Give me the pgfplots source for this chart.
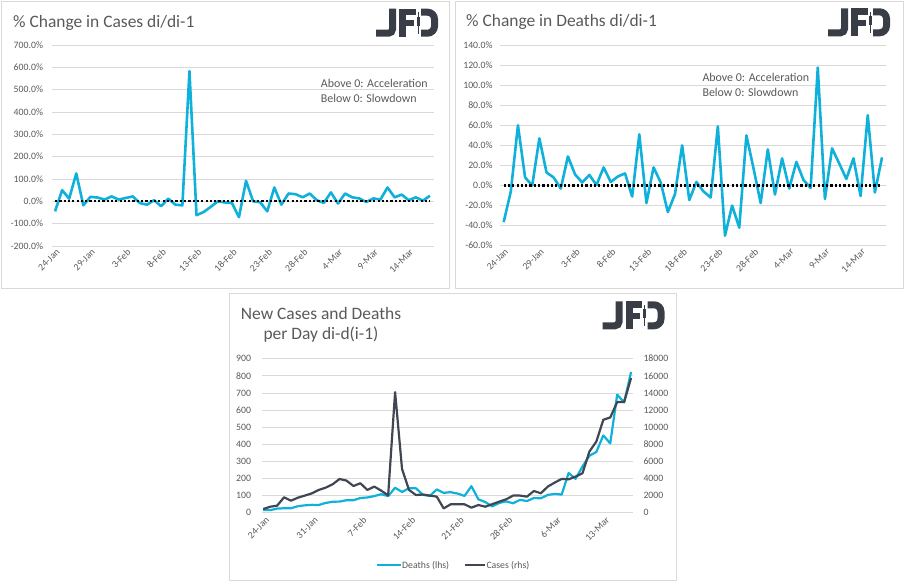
\documentclass[border=0pt]{standalone}
\usepackage{pgfplots}
\usepackage{pgfplotstable}
\pgfplotsset{compat=1.18}
\usepackage{fontspec}
\setmainfont{Carlito}

\definecolor{jfdcyan}{HTML}{0FB1DA}
\definecolor{jfdslate}{HTML}{404753}
\definecolor{txtgray}{HTML}{595959}
\definecolor{gridgray}{HTML}{D9D9D9}
\definecolor{logogray}{HTML}{393E46}

% daily % change in new cases (day index from 24-Jan)
\pgfplotstableread{
d pct
0 -45
1 50
2 12
3 125
4 -18
5 20
6 17
7 8
8 22
9 8
10 15
11 22
12 -8
13 -15
14 5
15 -22
16 12
17 -15
18 -18
19 583
20 -62
21 -48
22 -25
23 0
24 -5
25 -7
26 -71
27 92
28 0
29 -4
30 -45
31 62
32 -15
33 35
34 32
35 18
36 35
37 5
38 -7
39 40
40 -10
41 35
42 18
43 13
44 -3
45 13
46 8
47 62
48 18
49 30
50 5
51 18
52 3
53 25
}\casechange

% daily % change in new deaths
\pgfplotstableread{
d pct
0 -36.5
1 -6
2 60
3 8
4 0
5 47
6 13
7 8
8 -3
9 29
10 11
11 3
12 10.5
13 0.5
14 18
15 3.5
16 9
17 12
18 -11
19 51
20 -17.5
21 18
22 3
23 -26.5
24 -8.5
25 40
26 -14.5
27 3.5
28 -6
29 -12
30 59
31 -50
32 -20
33 -42
34 50
35 17
36 -17.5
37 36
38 -9
39 27
40 -3
41 23.5
42 5.5
43 -2.5
44 117.5
45 -13.5
46 37
47 22
48 6.5
49 27
50 -10.5
51 70
52 -7
53 28
}\deathchange

% new deaths and new cases per day
\pgfplotstableread{
d deaths cases
0 16 430
1 15 700
2 24 820
3 26 1800
4 26 1400
5 38 1760
6 43 2000
7 46 2260
8 45 2660
9 57 2930
10 64 3320
11 65 3940
12 73 3750
13 73 3120
14 86 3440
15 89 2660
16 97 3050
17 108 2580
18 97 2030
19 146 14100
20 121 5110
21 143 2660
22 143 2070
23 105 2120
24 98 2000
25 136 1880
26 116 500
27 120 980
28 112 980
29 98 980
30 155 590
31 78 900
32 62 700
33 37 1000
34 57 1290
35 66 1560
36 55 2000
37 75 2000
38 68 1880
39 86 2540
40 84 2270
41 104 3050
42 110 3520
43 106 3950
44 232 3900
45 198 4220
46 270 4610
47 333 7150
48 355 8320
49 452 10860
50 405 11130
51 690 12930
52 645 12930
53 822 15740
}\newperday

\pgfplotsset{
  excelbase/.style={
    scale only axis,
    axis line style={draw=none},
    major tick length=0pt,
    tick style={draw=none},
    tick label style={font=\fontsize{9.8}{11}\selectfont, text=txtgray},
    xticklabel style={rotate=45, anchor=north east, inner sep=1bp, yshift=-1bp},
    scaled ticks=false,
    clip=false,
  },
  gridded/.style={ymajorgrids, grid style={gridgray, line width=0.8bp}},
  pctline/.style={jfdcyan, line width=2.6bp, line join=round, no markers},
  zeroline/.style={black, line width=2.2bp, dash pattern=on 2.2bp off 2.1bp, no markers},
}

\tikzset{
  jfdlogo/.pic={
    \begin{scope}[x=1bp, y=-1bp]
      \draw[logogray, line width=7bp, rounded corners=4bp] (16.5,0) -- (16.5,24.5) -- (0,24.5);
      \fill[logogray] (23,0) rectangle (30,28);
      \fill[logogray] (23,0) rectangle (39.5,6.5);
      \fill[logogray] (23,11.5) rectangle (37.5,17.5);
      \draw[logogray, line width=1.3bp] (42.2,3.5) -- (42.2,25);
      \fill[logogray] (40.5,8) rectangle (43.9,17);
      \draw[logogray, line width=7bp, rounded corners=7bp] (45,3.5) -- (58.5,3.5) -- (58.5,24.5) -- (45,24.5);
    \end{scope}
  }
}

\begin{document}
\begin{tikzpicture}
\useasboundingbox (0,0) rectangle (906bp,584bp);

% panel frames
\draw[gridgray, line width=1bp] (1.5bp,582.5bp) rectangle (449.5bp,295.5bp);
\draw[gridgray, line width=1bp] (455.5bp,582.5bp) rectangle (903.5bp,295.5bp);
\draw[gridgray, line width=1bp] (229.5bp,290.5bp) rectangle (676.5bp,3.5bp);

% logos
\pic at (376bp,575.3bp) {jfdlogo};
\pic at (828bp,575.7bp) {jfdlogo};
\pic at (602.5bp,282.7bp) {jfdlogo};

% titles
\node[anchor=west, inner sep=0, font=\fontsize{17.5}{20}\selectfont, text=txtgray] at (13bp,561.5bp) {\% Change in Cases di/di-1};
\node[anchor=west, inner sep=0, font=\fontsize{17.5}{20}\selectfont, text=txtgray] at (466bp,561.8bp) {\% Change in Deaths di/di-1};
\node[align=center, inner sep=0, font=\fontsize{17.5}{20.6}\selectfont, text=txtgray] at (321bp,259bp) {New Cases and Deaths\\per Day di-d(i-1)};

% notes
\node[anchor=west, align=left, inner sep=0, font=\fontsize{12}{15}\selectfont, text=txtgray] at (320.7bp,493.2bp) {Above 0: Acceleration\\Below 0: Slowdown};
\node[anchor=west, align=left, inner sep=0, font=\fontsize{12}{15}\selectfont, text=txtgray] at (702.3bp,499.5bp) {Above 0: Acceleration\\Below 0: Slowdown};

% legend of the lower panel
\draw[jfdcyan, line width=2.2bp] (377.3bp,18.7bp) -- (400.7bp,18.7bp);
\node[anchor=west, inner sep=0, font=\fontsize{9.8}{11}\selectfont, text=txtgray] at (402bp,18.5bp) {Deaths (lhs)};
\draw[jfdslate, line width=2.2bp] (464.7bp,18.7bp) -- (485.3bp,18.7bp);
\node[anchor=west, inner sep=0, font=\fontsize{9.8}{11}\selectfont, text=txtgray] at (486.3bp,18.5bp) {Cases (rhs)};

% % change in cases
\begin{axis}[excelbase, gridded,
  at={(51.5bp,338bp)}, anchor=south west, width=382bp, height=201bp,
  xmin=-0.5, xmax=53.5, ymin=-200, ymax=700,
  ytick={-200,-100,...,700},
  yticklabels={-200.0\%,-100.0\%,0.0\%,100.0\%,200.0\%,300.0\%,400.0\%,500.0\%,600.0\%,700.0\%},
  yticklabel style={anchor=east, xshift=-5bp},
  xtick={0,5,...,50},
  xticklabels={24-Jan,29-Jan,3-Feb,8-Feb,13-Feb,18-Feb,23-Feb,28-Feb,4-Mar,9-Mar,14-Mar},
]
\addplot[pctline] table[x=d, y=pct] {\casechange};
\addplot[zeroline] coordinates {(0,0) (53,0)};
\end{axis}

% % change in deaths
\begin{axis}[excelbase, gridded,
  at={(500.1bp,338.3bp)}, anchor=south west, width=385.5bp, height=200.7bp,
  xmin=-0.5, xmax=53.5, ymin=-60, ymax=140,
  ytick={-60,-40,...,140},
  yticklabels={-60.0\%,-40.0\%,-20.0\%,0.0\%,20.0\%,40.0\%,60.0\%,80.0\%,100.0\%,120.0\%,140.0\%},
  yticklabel style={anchor=east, xshift=-4bp},
  xtick={0,5,...,50},
  xticklabels={24-Jan,29-Jan,3-Feb,8-Feb,13-Feb,18-Feb,23-Feb,28-Feb,4-Mar,9-Mar,14-Mar},
]
\addplot[pctline] table[x=d, y=pct] {\deathchange};
\addplot[zeroline] coordinates {(0,0) (53,0)};
\end{axis}

% new deaths (left scale)
\begin{axis}[excelbase, gridded,
  at={(261.5bp,71.3bp)}, anchor=south west, width=371.5bp, height=154bp,
  xmin=-0.25, xmax=53.28, ymin=0, ymax=900,
  ytick={0,100,...,900},
  yticklabels={0,100,200,300,400,500,600,700,800,900},
  yticklabel style={anchor=east, xshift=-7bp},
  xtick={0,7,...,49},
  xticklabels={24-Jan,31-Jan,7-Feb,14-Feb,21-Feb,28-Feb,6-Mar,13-Mar},
  xticklabel style={yshift=-2bp},
]
\addplot[jfdcyan, line width=2.2bp, line join=round, no markers] table[x=d, y=deaths] {\newperday};
\end{axis}

% new cases (right scale)
\begin{axis}[excelbase,
  at={(261.5bp,71.3bp)}, anchor=south west, width=371.5bp, height=154bp,
  xmin=-0.25, xmax=53.28, ymin=0, ymax=18000,
  axis x line=none, axis y line*=right, xtick=\empty,
  ytick={0,2000,...,18000},
  yticklabels={0,2000,4000,6000,8000,10000,12000,14000,16000,18000},
  yticklabel style={anchor=west, xshift=7bp},
]
\addplot[jfdslate, line width=2.2bp, line join=round, no markers] table[x=d, y=cases] {\newperday};
\end{axis}
\end{tikzpicture}
\end{document}
